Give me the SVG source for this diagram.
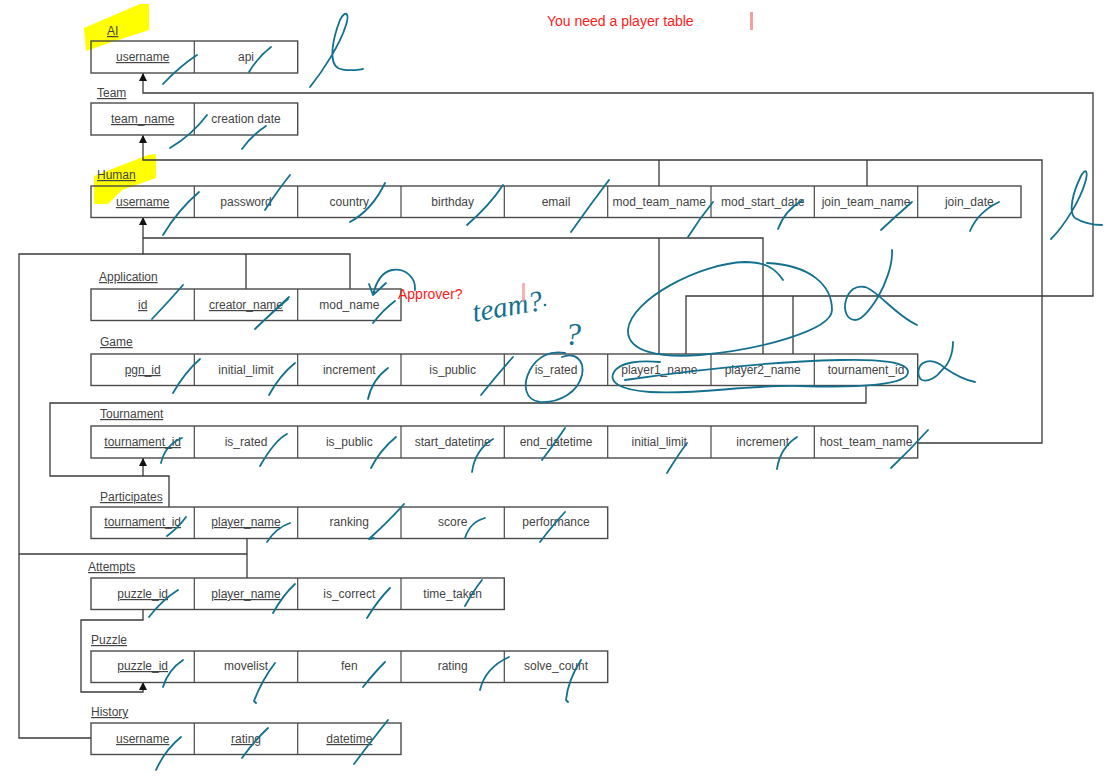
<svg xmlns="http://www.w3.org/2000/svg" width="1117" height="776" viewBox="0 0 1117 776">
<style>
.bg{fill:#ffffff}
.hl{fill:#ffff00}
.tb{fill:none;stroke:#4a4a4a;stroke-width:1.4}
.dv{stroke:#4a4a4a;stroke-width:1.2}
.lbl{font-family:"Liberation Sans",Arial,sans-serif;font-size:12px;fill:#444;text-decoration:underline}
.c{font-family:"Liberation Sans",Arial,sans-serif;font-size:12px;fill:#444;text-anchor:middle}
.u{text-decoration:underline}
.cn{fill:none;stroke:#3a3a3a;stroke-width:1.3}
.ink{fill:none;stroke:#13708f;stroke-width:1.8;stroke-linecap:round;stroke-linejoin:round}
.red{font-family:"Liberation Sans",Arial,sans-serif;font-size:14px;fill:#ff1a1a}
.hand{font-family:"Liberation Serif",serif;font-style:italic;fill:#13708f}
</style>
<defs>
<marker id="ah" viewBox="0 0 10 10" refX="10" refY="5" markerWidth="9" markerHeight="8" orient="auto" markerUnits="userSpaceOnUse"><path d="M0,0 L10,5 L0,10 z" fill="#111"/></marker>
</defs>
<rect class="bg" x="0" y="0" width="1117" height="776"/>
<g id="highlights">
<path class="hl" d="M84,28 L140,4 L149,4 L149,30 L112,42 L86,51 Z"/>
<path class="hl" d="M94,176 L148,155 L156,154 L156,178 L122,190 L108,204 L94,204 Z"/>
</g>
<g id="connectors">
<path class="cn" d="M686,354 V296 H1093 V93 H143 V73" marker-end="url(#ah)"/>
<path class="cn" d="M793,354 V296"/>
<path class="cn" d="M918,443 H1042 V160 H143 V135" marker-end="url(#ah)"/>
<path class="cn" d="M659,186 V160 M867,186 V160"/>
<path class="cn" d="M91,738 H19 V254 H143 V217" marker-end="url(#ah)"/>
<path class="cn" d="M143,254 H350 V289 M246,254 V289"/>
<path class="cn" d="M143,238 H763 V354 M659,238 V354"/>
<path class="cn" d="M19,554 H247 M247,538 V578"/>
<path class="cn" d="M866,385 V403 H50 V476 H169 V507"/>
<path class="cn" d="M143,476 V458" marker-end="url(#ah)"/>
<path class="cn" d="M143,609 V620 H81 V692 H143 V682" marker-end="url(#ah)"/>
</g>
<g id="t-ai">
<text class="lbl" x="107" y="35">AI</text>
<rect class="tb" x="91" y="41" width="206.7" height="32"/>
<line class="dv" x1="194.3" y1="41" x2="194.3" y2="73"/>
<text class="c u" x="142.7" y="61">username</text>
<text class="c" x="246" y="61">api</text>
</g>
<g id="t-team">
<text class="lbl" x="97" y="97">Team</text>
<rect class="tb" x="91" y="103" width="206.7" height="32"/>
<line class="dv" x1="194.3" y1="103" x2="194.3" y2="135"/>
<text class="c u" x="142.7" y="123">team_name</text>
<text class="c" x="246" y="123">creation date</text>
</g>
<g id="t-human">
<text class="lbl" x="97" y="179">Human</text>
<rect class="tb" x="91" y="186" width="930" height="31.5"/>
<path class="dv" d="M194.3,186V217.5M297.7,186V217.5M401,186V217.5M504.3,186V217.5M607.7,186V217.5M711,186V217.5M814.3,186V217.5M917.7,186V217.5"/>
<text class="c u" x="142.7" y="206">username</text>
<text class="c" x="246" y="206">password</text>
<text class="c" x="349.3" y="206">country</text>
<text class="c" x="452.7" y="206">birthday</text>
<text class="c" x="556" y="206">email</text>
<text class="c" x="659.3" y="206">mod_team_name</text>
<text class="c" x="762.7" y="206">mod_start_date</text>
<text class="c" x="866" y="206">join_team_name</text>
<text class="c" x="969.3" y="206">join_date</text>
</g>
<g id="t-application">
<text class="lbl" x="99" y="281">Application</text>
<rect class="tb" x="91" y="289" width="310" height="31.5"/>
<path class="dv" d="M194.3,289V320.5M297.7,289V320.5"/>
<text class="c u" x="142.7" y="309">id</text>
<text class="c u" x="246" y="309">creator_name</text>
<text class="c" x="349.3" y="309">mod_name</text>
</g>
<g id="t-game">
<text class="lbl" x="100" y="346">Game</text>
<rect class="tb" x="91" y="354" width="826.7" height="31.5"/>
<path class="dv" d="M194.3,354V385.5M297.7,354V385.5M401,354V385.5M504.3,354V385.5M607.7,354V385.5M711,354V385.5M814.3,354V385.5"/>
<text class="c u" x="142.7" y="374">pgn_id</text>
<text class="c" x="246" y="374">initial_limit</text>
<text class="c" x="349.3" y="374">increment</text>
<text class="c" x="452.7" y="374">is_public</text>
<text class="c" x="556" y="374">is_rated</text>
<text class="c" x="659.3" y="374">player1_name</text>
<text class="c" x="762.7" y="374">player2_name</text>
<text class="c" x="866" y="374">tournament_id</text>
</g>
<g id="t-tournament">
<text class="lbl" x="100" y="418">Tournament</text>
<rect class="tb" x="91" y="426" width="826.7" height="32"/>
<path class="dv" d="M194.3,426V458M297.7,426V458M401,426V458M504.3,426V458M607.7,426V458M711,426V458M814.3,426V458"/>
<text class="c u" x="142.7" y="446">tournament_id</text>
<text class="c" x="246" y="446">is_rated</text>
<text class="c" x="349.3" y="446">is_public</text>
<text class="c" x="452.7" y="446">start_datetime</text>
<text class="c" x="556" y="446">end_datetime</text>
<text class="c" x="659.3" y="446">initial_limit</text>
<text class="c" x="762.7" y="446">increment</text>
<text class="c" x="866" y="446">host_team_name</text>
</g>
<g id="t-participates">
<text class="lbl" x="100" y="501">Participates</text>
<rect class="tb" x="91" y="507" width="516.7" height="31.5"/>
<path class="dv" d="M194.3,507V538.5M297.7,507V538.5M401,507V538.5M504.3,507V538.5"/>
<text class="c u" x="142.7" y="526">tournament_id</text>
<text class="c u" x="246" y="526">player_name</text>
<text class="c" x="349.3" y="526">ranking</text>
<text class="c" x="452.7" y="526">score</text>
<text class="c" x="556" y="526">performance</text>
</g>
<g id="t-attempts">
<text class="lbl" x="88" y="571">Attempts</text>
<rect class="tb" x="91" y="578" width="413.3" height="31.5"/>
<path class="dv" d="M194.3,578V609.5M297.7,578V609.5M401,578V609.5"/>
<text class="c u" x="142.7" y="598">puzzle_id</text>
<text class="c u" x="246" y="598">player_name</text>
<text class="c" x="349.3" y="598">is_correct</text>
<text class="c" x="452.7" y="598">time_taken</text>
</g>
<g id="t-puzzle">
<text class="lbl" x="91" y="644">Puzzle</text>
<rect class="tb" x="91" y="651" width="516.7" height="31.5"/>
<path class="dv" d="M194.3,651V682.5M297.7,651V682.5M401,651V682.5M504.3,651V682.5"/>
<text class="c u" x="142.7" y="670">puzzle_id</text>
<text class="c" x="246" y="670">movelist</text>
<text class="c" x="349.3" y="670">fen</text>
<text class="c" x="452.7" y="670">rating</text>
<text class="c" x="556" y="670">solve_count</text>
</g>
<g id="t-history">
<text class="lbl" x="91" y="716">History</text>
<rect class="tb" x="91" y="723" width="310" height="31.5"/>
<path class="dv" d="M194.3,723V754.5M297.7,723V754.5"/>
<text class="c u" x="142.7" y="743">username</text>
<text class="c u" x="246" y="743">rating</text>
<text class="c u" x="349.3" y="743">datetime</text>
</g>
<g id="annotations">
<text class="red" x="547" y="26">You need a player table</text>
<rect x="750" y="12" width="3" height="18" fill="#f4a0a0"/>
<text class="red" x="398" y="299">Approver?</text>
<path class="ink" d="M415,290 C416,277 405,268 392,270 C382,272 376,282 373,295 M369,284 L373,295 L386,283"/>
<text class="hand" x="474" y="322" font-size="29" transform="rotate(-10 474 322)">team?</text>
<rect x="522" y="283" width="3" height="18" fill="#f4a0a0" opacity="0.8"/>
<circle cx="545" cy="305" r="1.3" fill="#13708f"/>
<text class="hand" x="565" y="345" font-size="32">?</text>
<path class="ink" d="M562,357 C575,352 585,360 582,375 C578,392 560,403 540,402 C525,400 522,385 530,370 C537,357 550,350 565,353"/>
<path class="ink" d="M783,280 C775,268 765,262 745,262 C700,263 630,300 628,330 C627,352 660,358 700,355 C760,350 832,330 832,310 C832,285 810,265 767,263"/>
<path class="ink" d="M625,380 C680,372 760,362 840,360 C880,359 908,362 908,372 C908,385 860,388 800,386 C740,385 700,395 650,392 C620,390 608,382 614,372 C620,362 640,360 660,362"/>
<path class="ink" d="M892,250 C893,265 885,285 878,297 C870,310 862,320 855,320 C847,320 843,310 846,300 C849,290 856,285 865,287 C877,290 895,315 917,325"/>
<path class="ink" d="M953,342 C953,355 948,365 942,370 C936,378 928,382 922,380 C917,377 917,367 923,363 C930,359 938,362 945,368 C955,375 965,380 975,382"/>
<path class="ink" d="M310,87 C322,72 340,45 346,25 C350,12 345,10 340,20 C333,38 328,62 338,68 C346,72 356,70 363,69"/>
<path class="ink" d="M1051,239 C1065,225 1080,200 1085,183 C1089,170 1085,168 1081,176 C1073,192 1068,212 1075,218 C1085,224 1095,225 1102,225"/>
<path class="ink" d="M163,84 Q180,66 197,55 M249,72 Q258,57 271,47 M170,148 Q192,135 207,115 M242,149 Q252,135 266,126"/>
<path class="ink" d="M163,235 Q178,210 199,192 M265,210 Q278,190 290,175 M350,222 Q372,210 385,183 M467,225 Q490,205 503,185 M571,232 Q590,205 609,180 M688,237 Q700,218 713,202 M778,229 Q785,210 803,200 M881,230 Q897,215 912,202 M970,231 Q978,212 999,202"/>
<path class="ink" d="M152,319 Q170,300 183,285 M255,329 Q275,310 289,297 M257,327 Q276,309 288,299 M373,323 Q383,310 395,301"/>
<path class="ink" d="M173,393 Q185,372 200,359 M269,395 Q280,375 295,363 M368,399 Q372,380 388,368 M481,395 Q497,375 513,357"/>
<path class="ink" d="M161,463 Q165,445 182,438 M260,466 Q275,440 287,434 M371,468 Q380,450 396,437 M472,472 Q475,450 493,439 M542,460 Q555,443 565,428 M667,473 Q678,455 687,443 M777,469 Q780,448 797,437 M891,468 Q910,450 928,430"/>
<path class="ink" d="M167,536 Q178,528 186,517 M267,542 Q276,528 290,523 M374,538 L369,539 Q390,520 404,504 M465,538 Q470,522 485,518 M540,542 Q553,525 565,512"/>
<path class="ink" d="M149,617 Q162,600 178,590 M273,613 Q283,595 295,584 M367,618 Q378,600 390,588 M465,606 Q474,590 482,580"/>
<path class="ink" d="M163,687 Q168,670 183,660 M256,703 L254,701 Q262,680 275,663 M363,687 Q375,672 385,662 M480,690 Q485,668 509,657 M568,702 L566,700 Q568,680 581,660"/>
<path class="ink" d="M156,770 Q165,750 181,737 M242,758 Q255,740 268,728 M354,764 Q372,740 388,720"/>
</g>
</svg>
